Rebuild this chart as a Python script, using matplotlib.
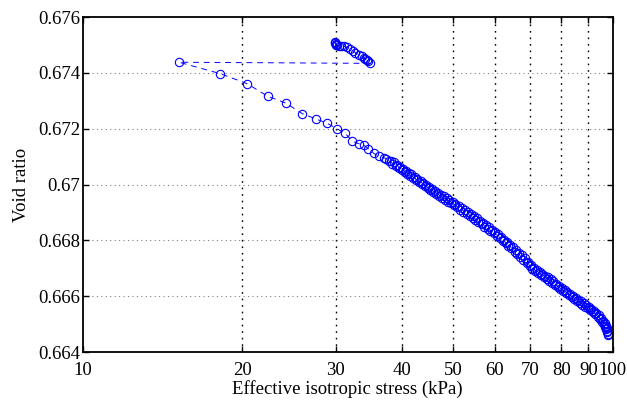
import numpy as np
import matplotlib
matplotlib.use("Agg")
import matplotlib.pyplot as plt

plt.rcParams['font.family'] = ['Liberation Serif', 'DejaVu Serif']

# first loading step, 30 -> 35 kPa
stress_a = [29.9, 29.95, 30.0, 30.08, 30.2, 30.38, 30.7, 31.05, 31.5, 31.9,
            32.34, 32.67, 33.14, 33.63, 33.87, 34.1, 34.38, 34.6, 34.77]
void_a = [0.67512, 0.67508, 0.67504, 0.67500, 0.67498, 0.67496, 0.67497, 0.67496,
          0.67491, 0.67486, 0.67479, 0.67472, 0.67464, 0.67460, 0.67452, 0.67450,
          0.67446, 0.67441, 0.67434]

# reloading from 15 kPa up to 100 kPa
stress_b = [15.19, 18.17, 20.42, 22.34, 24.19, 25.94, 27.51, 28.88, 30.17, 31.28,
            32.27, 33.21, 33.95, 34.58, 35.38, 36.15, 36.95,
            37.4, 37.8, 38.1, 38.4, 38.7, 39.0, 39.2, 39.5, 39.7, 40.0,
            40.2, 40.5, 40.7, 41.0, 41.2, 41.5, 41.7, 42.0, 42.3, 42.6,
            42.8, 43.1, 43.4, 43.7, 43.9, 44.2, 44.5, 44.8, 45.0, 45.3,
            45.6, 45.9, 46.2, 46.5, 46.8, 47.1, 47.4, 47.7, 48.0, 48.3,
            48.6, 48.9, 49.2, 49.5, 49.9, 50.2, 50.5, 50.9, 51.2, 51.6,
            51.9, 52.3, 52.6, 53.0, 53.3, 53.7, 54.0, 54.4, 54.7, 55.1,
            55.4, 55.8, 56.2, 56.6, 56.9, 57.3, 57.7, 58.1, 58.4, 58.8,
            59.2, 59.6, 60.0, 60.4, 60.8, 61.2, 61.6, 62.0, 62.4, 62.8,
            63.2, 63.6, 64.0, 64.4, 64.8, 65.3, 65.7, 66.1, 66.6, 67.0,
            67.4, 67.9, 68.3, 68.8, 69.2, 69.7, 70.1, 70.6, 71.0, 71.5,
            71.9, 72.4, 72.8, 73.3, 73.7, 74.2, 74.6, 75.1, 75.5, 76.0,
            76.4, 76.9, 77.3, 77.8, 78.3, 78.8, 79.2, 79.7, 80.2, 80.7,
            81.2, 81.7, 82.2, 82.7, 83.2, 83.7, 84.2, 84.7, 85.2, 85.7,
            86.2, 86.7, 87.2, 87.7, 88.2, 88.7, 89.2, 89.7, 90.2, 90.7,
            91.2, 91.7, 92.2, 92.7, 93.2, 93.7, 94.2, 94.7, 95.1, 95.5,
            95.9, 96.3, 96.6, 96.9, 97.2, 97.4, 97.6, 97.7, 97.8, 97.9,
            97.9]
void_b = [0.67438, 0.67397, 0.67361, 0.67316, 0.67291, 0.67254, 0.67235, 0.67220, 0.67200, 0.67183,
          0.67155, 0.67146, 0.67140, 0.67128, 0.67112, 0.67102, 0.67096,
          0.67093, 0.67083, 0.67085, 0.67074, 0.67079, 0.67066, 0.67071, 0.67060, 0.67064, 0.67051,
          0.67056, 0.67044, 0.67049, 0.67037, 0.67042, 0.67031, 0.67036, 0.67023, 0.67028, 0.67015,
          0.67021, 0.67008, 0.67013, 0.67001, 0.67006, 0.66994, 0.66999, 0.66986, 0.66991, 0.66979,
          0.66985, 0.66973, 0.66978, 0.66966, 0.66971, 0.66959, 0.66964, 0.66952, 0.66958, 0.66946,
          0.66951, 0.66939, 0.66945, 0.66932, 0.66938, 0.66925, 0.66930, 0.66918, 0.66923, 0.66910,
          0.66916, 0.66903, 0.66909, 0.66896, 0.66901, 0.66888, 0.66894, 0.66881, 0.66886, 0.66873,
          0.66879, 0.66865, 0.66870, 0.66857, 0.66862, 0.66849, 0.66855, 0.66841, 0.66847, 0.66833,
          0.66838, 0.66825, 0.66830, 0.66816, 0.66821, 0.66807, 0.66813, 0.66798, 0.66803, 0.66789,
          0.66794, 0.66780, 0.66785, 0.66771, 0.66776, 0.66760, 0.66765, 0.66750, 0.66756, 0.66740,
          0.66746, 0.66730, 0.66735, 0.66719, 0.66724, 0.66708, 0.66713, 0.66698, 0.66702, 0.66690,
          0.66694, 0.66683, 0.66687, 0.66676, 0.66680, 0.66669, 0.66673, 0.66663, 0.66667, 0.66656,
          0.66660, 0.66648, 0.66653, 0.66641, 0.66645, 0.66633, 0.66638, 0.66626, 0.66631, 0.66618,
          0.66623, 0.66611, 0.66616, 0.66603, 0.66608, 0.66596, 0.66601, 0.66590, 0.66594, 0.66583,
          0.66588, 0.66576, 0.66581, 0.66570, 0.66574, 0.66563, 0.66567, 0.66557, 0.66561, 0.66550,
          0.66554, 0.66542, 0.66547, 0.66535, 0.66539, 0.66527, 0.66531, 0.66518, 0.66522, 0.66509,
          0.66512, 0.66500, 0.66503, 0.66491, 0.66494, 0.66483, 0.66486, 0.66475, 0.66470, 0.66465,
          0.66462]

stress = stress_a + stress_b
void = void_a + void_b

x_ticks = [10, 20, 30, 40, 50, 60, 70, 80, 90, 100]
y_ticks = [0.664, 0.666, 0.668, 0.67, 0.672, 0.674, 0.676]
y_labels = ['0.664', '0.666', '0.668', '0.67', '0.672', '0.674', '0.676']

fig = plt.figure(figsize=(6.27, 4.07), dpi=100)
ax = fig.add_axes([0.1324, 0.1351, 0.8445, 0.8231])

ax.plot(stress, void, '--o', color='blue', lw=0.7, dashes=(6, 5),
        markersize=6, markerfacecolor='none', markeredgewidth=0.8)

ax.set_xscale('log')
ax.set_xlim(10, 100)
ax.set_ylim(0.664, 0.676)
ax.set_xticks(x_ticks)
ax.set_xticklabels([str(t) for t in x_ticks])
ax.xaxis.set_minor_locator(matplotlib.ticker.NullLocator())
ax.set_yticks(y_ticks)
ax.set_yticklabels(y_labels)

# matlab style grid
for xv in x_ticks[1:-1]:
    ax.axvline(xv, color='black', lw=1.0, linestyle=(0, (1.2, 3.5)), zorder=0)
for yv in y_ticks[1:-1]:
    ax.axhline(yv, color='0.5', lw=0.8, linestyle=(0, (1, 3)), zorder=0)

ax.tick_params(direction='in', top=True, right=True, length=4, width=1.0,
               labelsize=13.5)
ax.tick_params(axis='x', pad=7)
ax.tick_params(axis='y', pad=2)
for s in ax.spines.values():
    s.set_linewidth(1.3)

ax.set_xlabel('Effective isotropic stress (kPa)', fontsize=13.5, labelpad=1)
ax.set_ylabel('Void ratio', fontsize=13.5, labelpad=6)

fig.savefig('out.png', dpi=100)
